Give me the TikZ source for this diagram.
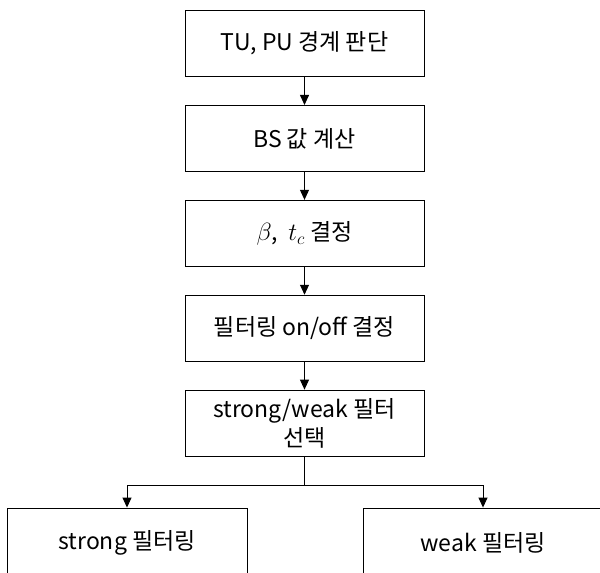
\documentclass[tikz,border=0pt]{standalone}
\usepackage{fontspec}
\setmainfont{Noto Sans CJK KR}
\usetikzlibrary{arrows.meta,positioning}
\tikzset{
  stepbox/.style={draw, line width=0.9pt, minimum width=239pt, minimum height=66pt,
    align=center, font=\fontsize{23}{29}\selectfont, inner sep=3pt},
  flowarrow/.style={-{Triangle[length=10pt,width=9pt]}, line width=0.9pt}
}
\begin{document}
\begin{tikzpicture}[node distance=28pt]
  \useasboundingbox (0,0) rectangle (600pt,-573pt);
  \node[stepbox] (tu) at (304.5pt,-43.5pt) {TU, PU 경계 판단};
  \node[stepbox, below=of tu] (bs) {BS 값 계산};
  \node[stepbox, below=of bs] (bt) {$\beta$, \ $t_c$ 결정};
  \node[stepbox, below=of bt] (onoff) {필터링 on/off 결정};
  \node[stepbox, below=of onoff] (sel) {strong/weak 필터\\선택};
  \node[stepbox, minimum width=240pt, minimum height=70pt] (strong)
    at (127pt,-543pt) {strong 필터링};
  \node[stepbox, minimum width=240pt, minimum height=70pt] (weak)
    at (483pt,-543pt) {weak 필터링};
  \coordinate[below=29pt of sel.south] (split);
  \draw[flowarrow] (tu) -- (bs);
  \draw[flowarrow] (bs) -- (bt);
  \draw[flowarrow] (bt) -- (onoff);
  \draw[flowarrow] (onoff) -- (sel);
  \draw[line width=0.9pt] (sel) -- (split);
  \draw[flowarrow] (split) -| (strong);
  \draw[flowarrow] (split) -| (weak);
\end{tikzpicture}
\end{document}
